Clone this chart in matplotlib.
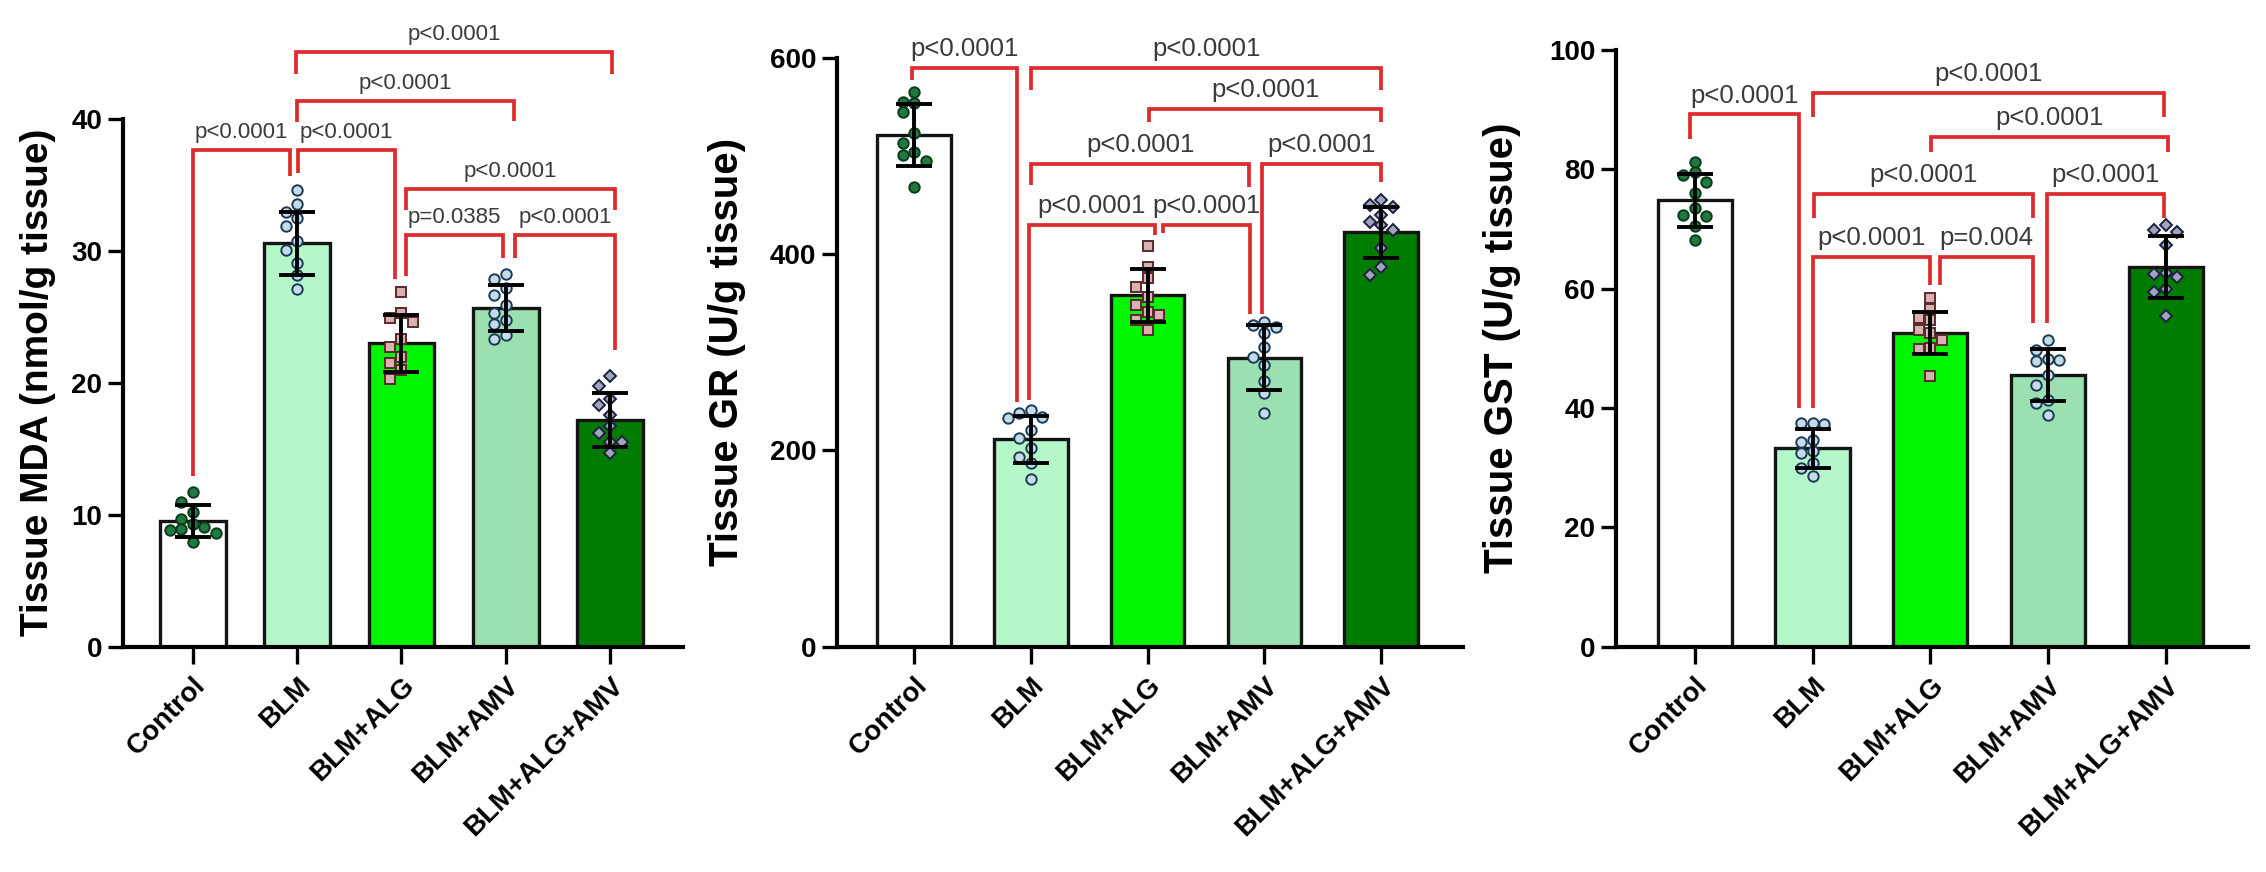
import matplotlib
matplotlib.use('Agg')
import matplotlib.pyplot as plt
from matplotlib.transforms import ScaledTranslation

W, H, DPI = 2266, 872, 100
plt.rcParams['font.family'] = ['Liberation Sans', 'DejaVu Sans']

groups = ['Control', 'BLM', 'BLM+ALG', 'BLM+AMV', 'BLM+ALG+AMV']
bar_colors = ['#ffffff', '#b4f7c8', '#00f500', '#9be0b1', '#007c00']

# ---------------- Panel 1 : MDA ----------------
mda_mean = [9.5, 30.6, 23.0, 25.7, 17.2]
mda_sd = [1.2, 2.4, 2.15, 1.75, 2.05]
mda_pts = [
    [11.7, 11.0, 10.2, 9.7, 9.3, 9.1, 8.9, 8.85, 8.6, 7.9],
    [34.6, 33.6, 33.0, 32.5, 31.9, 30.8, 30.1, 29.1, 28.2, 27.1],
    [26.9, 25.3, 24.9, 24.6, 23.3, 22.7, 22.0, 21.5, 21.0, 20.3],
    [28.3, 27.9, 27.2, 26.7, 25.9, 25.3, 24.8, 24.5, 23.6, 23.3],
    [20.5, 19.8, 18.8, 18.3, 17.6, 16.7, 16.2, 15.5, 15.5, 14.7],
]
mda_ticks = [0, 10, 20, 30, 40]
# (i, j, y of bar, y left end, y right end, text)
mda_brackets = [
    (0, 1, 37.7, 12.9, 35.7, 'p<0.0001'),
    (1, 2, 37.7, 35.9, 27.9, 'p<0.0001'),
    (1, 3, 41.4, 39.8, 39.9, 'p<0.0001'),
    (1, 4, 45.1, 43.4, 43.4, 'p<0.0001'),
    (2, 4, 34.7, 33.1, 33.1, 'p<0.0001'),
    (2, 3, 31.2, 28.1, 29.45, 'p=0.0385'),
    (3, 4, 31.2, 29.45, 22.5, 'p<0.0001'),
]

# ---------------- Panel 2 : GR ----------------
gr_mean = [521, 211, 358, 294, 422]
gr_sd = [32, 24, 27, 33, 26]
gr_pts = [
    [565, 555, 554, 544, 523, 513, 504, 501, 495, 468],
    [241, 237.5, 234, 233, 221, 212, 202, 193, 187, 171],
    [408, 387, 375, 366, 356, 348, 341, 338, 333, 322],
    [331, 327, 325, 319, 305, 295, 287, 270, 258, 237.5],
    [455, 450, 448, 440, 432, 429, 424, 406, 387, 378],
]
gr_ticks = [0, 200, 400, 600]
gr_brackets = [
    (0, 1, 589, 577, 249, 'p<0.0001'),
    (1, 4, 589, 567, 567, 'p<0.0001'),
    (2, 4, 548, 534.6, 534.6, 'p<0.0001'),
    (1, 3, 492, 470, 468, 'p<0.0001'),
    (3, 4, 492, 339, 473.5, 'p<0.0001'),
    (1, 2, 429.4, 251, 419, 'p<0.0001'),
    (2, 3, 429.4, 421, 339, 'p<0.0001'),
]

# ---------------- Panel 3 : GST ----------------
gst_mean = [74.8, 33.2, 52.6, 45.5, 63.7]
gst_sd = [4.4, 3.2, 3.5, 4.3, 5.2]
gst_pts = [
    [81.3, 79.5, 79.0, 77.9, 76.0, 73.5, 72.3, 72.1, 70.5, 68.1],
    [37.5, 37.4, 37.3, 34.6, 34.2, 32.7, 32.4, 30.8, 29.9, 28.5],
    [58.4, 56.5, 55.0, 54.7, 53.1, 52.5, 51.4, 50.0, 49.8, 45.3],
    [51.4, 49.7, 48.2, 48.0, 47.8, 45.5, 43.8, 41.3, 40.8, 38.8],
    [70.7, 69.8, 69.5, 67.3, 62.6, 62.4, 62.0, 59.9, 59.5, 55.4],
]
gst_ticks = [0, 20, 40, 60, 80, 100]
gst_brackets = [
    (0, 1, 89.2, 85.0, 39.9, 'p<0.0001'),
    (1, 4, 92.8, 88.8, 88.8, 'p<0.0001'),
    (2, 4, 85.4, 82.9, 82.9, 'p<0.0001'),
    (1, 3, 75.9, 71.8, 71.8, 'p<0.0001'),
    (3, 4, 75.9, 54.2, 71.8, 'p<0.0001'),
    (1, 2, 65.3, 39.9, 60.6, 'p<0.0001'),
    (2, 3, 65.3, 60.6, 54.2, 'p=0.004'),
]

ylabels = ['Tissue MDA (nmol/g tissue)', 'Tissue GR (U/g tissue)', 'Tissue GST (U/g tissue)']

# small sideways nudges of bracket ends (category units), style only
nudges = [
    [(0.0, -0.07), (0.01, -0.065), (0.0, 0.08), (-0.01, 0.02), (0.04, 0.05), (0.04, -0.03), (0.09, 0.05)],
    [(-0.02, -0.115), (0.0, 0.0), (0.01, 0.0), (0.0, -0.13), (-0.02, 0.0), (-0.015, 0.06), (0.13, -0.12)],
    [(-0.04, -0.114), (0.006, -0.01), (0.005, 0.02), (0.01, -0.13), (-0.005, -0.01), (0.0, 0.0), (0.085, -0.13)],
]

# marker styles per group
mk = [
    dict(marker='o', mfc='#1f7a3f', mec='#0c3a1c', ms=7.5),
    dict(marker='o', mfc='#c4dcea', mec='#1d3a55', ms=7.5),
    dict(marker='s', mfc='#d8b2b2', mec='#5a2a2a', ms=7),
    dict(marker='o', mfc='#c4dcea', mec='#1d3a55', ms=7.5),
    dict(marker='D', mfc='#a0a4bc', mec='#1e2040', ms=6.5),
]

RED = '#dc2c2f'
BASE = 646.5   # pixel row of zero line (from top)
TOPPX = 4
PFAM = ['Liberation Sans Narrow', 'Liberation Sans', 'DejaVu Sans']

# layout: (left px, right px, xlo, xhi, pixel of top tick, ylabel x px, ylabel y px, p-text size)
layout = [
    (123, 683, -0.67, 4.70, 119.3, 38, 382, 16),
    (837, 1463, -0.66, 4.70, 57.5, 727, 352, 18.5),
    (1616, 2248, -0.67, 4.70, 50.0, 1502, 348, 18.5),
]

datasets = [
    (mda_mean, mda_sd, mda_pts, mda_ticks, mda_brackets),
    (gr_mean, gr_sd, gr_pts, gr_ticks, gr_brackets),
    (gst_mean, gst_sd, gst_pts, gst_ticks, gst_brackets),
]


def swarm(vals, ppu_y, ppu_x, step_px=11.5, d_px=10.5):
    placed = []
    res = [0.0] * len(vals)
    order = sorted(range(len(vals)), key=lambda k: -vals[k])
    for k in order:
        y = vals[k] * ppu_y
        x = 0.0
        for m in [0, -1, 1, -2, 2, -3, 3, -4, 4]:
            x = m * step_px
            if all((x - px) ** 2 + (y - py) ** 2 >= d_px ** 2 for px, py in placed):
                break
        placed.append((x, y))
        res[k] = x / ppu_x
    return res


fig = plt.figure(figsize=(W / DPI, H / DPI), dpi=DPI)

for p, (lay, data) in enumerate(zip(layout, datasets)):
    left, right, xlo, xhi, ptop, ylx, yly, pfs = lay
    mean, sd, pts, ticks, brackets = data
    ymax = ticks[-1]
    ppu_y = (BASE - ptop) / ymax
    ppu_x = (right - left) / (xhi - xlo)
    ax = fig.add_axes([left / W, 1 - BASE / H, (right - left) / W, (BASE - TOPPX) / H])
    ax.set_xlim(xlo, xhi)
    ax.set_ylim(0, (BASE - TOPPX) / ppu_y)
    x = list(range(len(groups)))

    ax.bar(x, mean, width=0.63, color=bar_colors, edgecolor='#141414', linewidth=2.4, zorder=2)
    for g in range(len(groups)):
        offs = swarm(pts[g], ppu_y, ppu_x)
        ax.plot([g + o for o in offs], pts[g], linestyle='none', mew=1.4, zorder=3, **mk[g])
    ax.errorbar(x, mean, yerr=sd, fmt='none', ecolor='black', elinewidth=2.8,
                capsize=13, capthick=2.8, zorder=4)

    for b, (i, j, yb, yl, yr, lbl) in enumerate(brackets):
        di, dj = nudges[p][b]
        xi, xj = i + di, j + dj
        ax.plot([xi, xi, xj, xj], [yl, yb, yb, yr], color=RED, lw=2.7,
                solid_joinstyle='miter', solid_capstyle='butt', clip_on=False, zorder=5)
        ax.annotate(lbl, xy=((xi + xj) / 2, yb), xytext=(0, 8.5), textcoords='offset points',
                    ha='center', va='baseline', fontsize=pfs, color='#3a3a3a',
                    fontfamily=PFAM, fontstretch='condensed',
                    annotation_clip=False, zorder=6)

    for s in ['top', 'right']:
        ax.spines[s].set_visible(False)
    ax.spines['left'].set_bounds(0, ymax)
    ax.spines['left'].set_linewidth(3)
    ax.spines['bottom'].set_linewidth(3)
    ax.set_yticks(ticks)
    ax.set_yticklabels([str(t) for t in ticks], fontsize=20, fontweight='bold')
    ax.set_xticks(x)
    ax.set_xticklabels(groups, fontsize=20, fontweight='bold', rotation=45,
                       ha='right', va='top', rotation_mode='anchor')
    shift = ScaledTranslation(6 / DPI, -3 / DPI, fig.dpi_scale_trans)
    for t in ax.get_xticklabels():
        t.set_transform(t.get_transform() + shift)
    ax.tick_params(axis='y', width=2.4, length=11, pad=4)
    ax.tick_params(axis='x', width=2.4, length=12.5, pad=6)
    ax.set_facecolor('none')

    fig.text(ylx / W, 1 - yly / H, ylabels[p], rotation=90, ha='center', va='center',
             fontsize=28 if p == 0 else 29, fontweight='bold')

fig.savefig('out.png', dpi=DPI)
